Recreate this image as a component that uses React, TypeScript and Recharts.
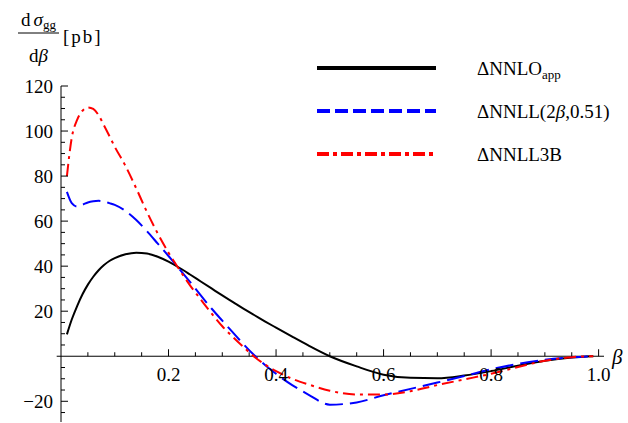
import { LineChart, Line, XAxis, YAxis, ReferenceLine, Legend } from "recharts";

// beta grid shared by all three curves
const BETA: number[] = [
  0.011, 0.02, 0.03, 0.04, 0.05, 0.06, 0.07, 0.08, 0.09, 0.1, 0.12, 0.14, 0.16,
  0.18, 0.2, 0.22, 0.24, 0.26, 0.28, 0.3, 0.32, 0.34, 0.36, 0.38, 0.4, 0.43,
  0.46, 0.5, 0.55, 0.6, 0.65, 0.7, 0.75, 0.8, 0.85, 0.9, 0.95, 0.99,
];
const NNLO_APP: number[] = [
  9.7, 16.3, 22.3, 27.5, 31.8, 35.3, 38.2, 40.5, 42.3, 43.6, 45.3, 46, 45.6,
  44.2, 42, 39.3, 36.3, 33.2, 30.1, 27, 24, 21, 18.2, 15.4, 12.7, 8.7, 4.8, 0,
  -4.5, -8.2, -9.6, -9.8, -8.6, -6.6, -4.2, -2, -0.6, 0,
];
const NNLL_2B: number[] = [
  73, 68, 66.5, 67.3, 68.3, 68.8, 69, 68.7, 68, 67.2, 64.5, 60.5, 55.5, 50,
  44.5, 38.8, 33, 27, 21.2, 15.8, 10.5, 5.2, 0.3, -4, -7.8, -12.8, -17, -21.5,
  -20.5, -17.3, -14.5, -11.7, -8.8, -5.8, -3.4, -1.6, -0.5, 0,
];
const NNLL_3B: number[] = [
  80, 97, 105, 109, 110.5, 109.8, 107, 102.5, 97.8, 93, 84.5, 74.5, 64, 54.5,
  46, 38.5, 31.5, 25.2, 19, 13.3, 8.5, 4, -0.3, -3.8, -6.6, -10, -12.5, -15.3,
  -17, -17, -15.5, -12.8, -10.3, -7.8, -4.8, -2, -0.4, 0,
];

const X_TICKS: number[] = [
  0.05, 0.1, 0.15, 0.2, 0.25, 0.3, 0.35, 0.4, 0.45, 0.5, 0.55, 0.6, 0.65, 0.7,
  0.75, 0.8, 0.85, 0.9, 0.95, 1.0,
];
const X_LABELS: number[] = [0.2, 0.4, 0.6, 0.8, 1.0];
const Y_TICKS: number[] = [
  -25, -20, -15, -10, -5, 5, 10, 15, 20, 25, 30, 35, 40, 45, 50, 55, 60, 65,
  70, 75, 80, 85, 90, 95, 100, 105, 110, 115, 120,
];
const Y_LABELS: number[] = [-20, 20, 40, 60, 80, 100, 120];

const SERIES = [
  { key: "nnlo", name: "ΔNNLO", sub: "app", color: "#000000", dash: undefined, legendDash: undefined },
  { key: "nnll2b", name: "ΔNNLL(2", italic: "β", rest: ",0.51)", color: "#0000ff", dash: "18 7", legendDash: "13 5" },
  { key: "nnll3b", name: "ΔNNLL3B", color: "#ff0000", dash: "12 5 3 5", legendDash: "12 4 4 4" },
];

const data = BETA.map((b, i) => ({
  beta: b,
  nnlo: NNLO_APP[i],
  nnll2b: NNLL_2B[i],
  nnll3b: NNLL_3B[i],
}));

const W = 628;
const H = 423;
const TOP = 86;
const LEFT = 61;
const RIGHT = 24;
const BOTTOM = H - 1; // x axis takes 1px
const Y_MIN = -29.2;
const Y_MAX = 120;
const Y0 = TOP + ((BOTTOM - TOP) * Y_MAX) / (Y_MAX - Y_MIN);
const FONT = "Liberation Serif";

function XTick(props: any) {
  const { x, payload } = props;
  const v = payload.value;
  const major = X_LABELS.some((l) => Math.abs(l - v) < 1e-6);
  return (
    <g>
      <line x1={x} x2={x} y1={Y0} y2={Y0 - (major ? 7 : 4)} stroke="#000" strokeWidth={1} />
      {major && (
        <text x={x} y={Y0 + 25} textAnchor="middle" fontFamily={FONT} fontSize={19} fill="#000">
          {v.toFixed(1)}
        </text>
      )}
    </g>
  );
}

function YTick(props: any) {
  const { y, payload } = props;
  const v = payload.value;
  const major = Y_LABELS.includes(v);
  return (
    <g>
      <line x1={LEFT} x2={LEFT + (major ? 7 : 4)} y1={y} y2={y} stroke="#000" strokeWidth={1} />
      {major && (
        <text x={LEFT - 8} y={y + 7} textAnchor="end" fontFamily={FONT} fontSize={19} fill="#000">
          {v < 0 ? "\u2212" + Math.abs(v) : v}
        </text>
      )}
    </g>
  );
}

function renderLegend() {
  return (
    <svg width={330} height={130} style={{ display: "block" }}>
      {SERIES.map((s, i) => {
        const y = 28 + i * 43;
        return (
          <g key={s.key}>
            <line x1={17} x2={136} y1={y} y2={y} stroke={s.color} strokeWidth={4} strokeDasharray={s.legendDash} />
            <text x={177} y={y + 7} fontFamily={FONT} fontSize={19} fill="#000">
              {s.name}
              {s.sub && (
                <tspan fontSize={13} dy={4}>
                  {s.sub}
                </tspan>
              )}
              {s.italic && <tspan fontStyle="italic">{s.italic}</tspan>}
              {s.rest && <tspan>{s.rest}</tspan>}
            </text>
          </g>
        );
      })}
    </svg>
  );
}

export default function App() {
  return (
    <div style={{ position: "absolute", left: 0, top: 0, width: W, height: H, background: "#fff" }}>
      <LineChart width={W} height={H} data={data} margin={{ top: TOP, left: LEFT - 1, right: RIGHT, bottom: 0 }}>
        <XAxis
          dataKey="beta"
          type="number"
          domain={[0, 1.01]}
          ticks={X_TICKS}
          height={1}
          axisLine={false}
          tickLine={false}
          tick={<XTick />}
          allowDataOverflow
          interval={0}
        />
        <YAxis
          type="number"
          domain={[Y_MIN, Y_MAX]}
          ticks={Y_TICKS}
          width={1}
          axisLine={{ stroke: "#000", strokeWidth: 1 }}
          tickLine={false}
          tick={<YTick />}
          allowDataOverflow
          interval={0}
        />
        <ReferenceLine
          segment={[
            { x: -0.008, y: 0 },
            { x: 1.01, y: 0 },
          ]}
          stroke="#000"
          strokeWidth={1}
          ifOverflow="visible"
        />
        {SERIES.map((s) => (
          <Line
            key={s.key}
            dataKey={s.key}
            name={s.name}
            type="monotone"
            stroke={s.color}
            strokeWidth={2}
            strokeDasharray={s.dash}
            dot={false}
            isAnimationActive={false}
          />
        ))}
        <Legend
          layout="vertical"
          align="center"
          verticalAlign="middle"
          content={renderLegend}
          wrapperStyle={{ position: "absolute", left: 300, top: 40, width: 330, height: 130 }}
        />
      </LineChart>
      <svg
        width={W}
        height={H}
        style={{ position: "absolute", left: 0, top: 0, pointerEvents: "none" }}
        fontFamily={FONT}
      >
        <text x={21} y={26} fontSize={19} fill="#000">
          d<tspan dx={3} fontStyle="italic">σ</tspan>
          <tspan fontSize={13} dy={3}>gg</tspan>
        </text>
        <line x1={18} x2={59} y1={33} y2={33} stroke="#000" strokeWidth={1} />
        <text x={29} y={62} fontSize={19} fill="#000">
          d<tspan fontStyle="italic">β</tspan>
        </text>
        <text x={63} y={43} fontSize={19} fill="#000" letterSpacing={2}>
          [pb]
        </text>
        <text x={612} y={364} fontSize={21} fontStyle="italic" fill="#000">
          β
        </text>
      </svg>
    </div>
  );
}
